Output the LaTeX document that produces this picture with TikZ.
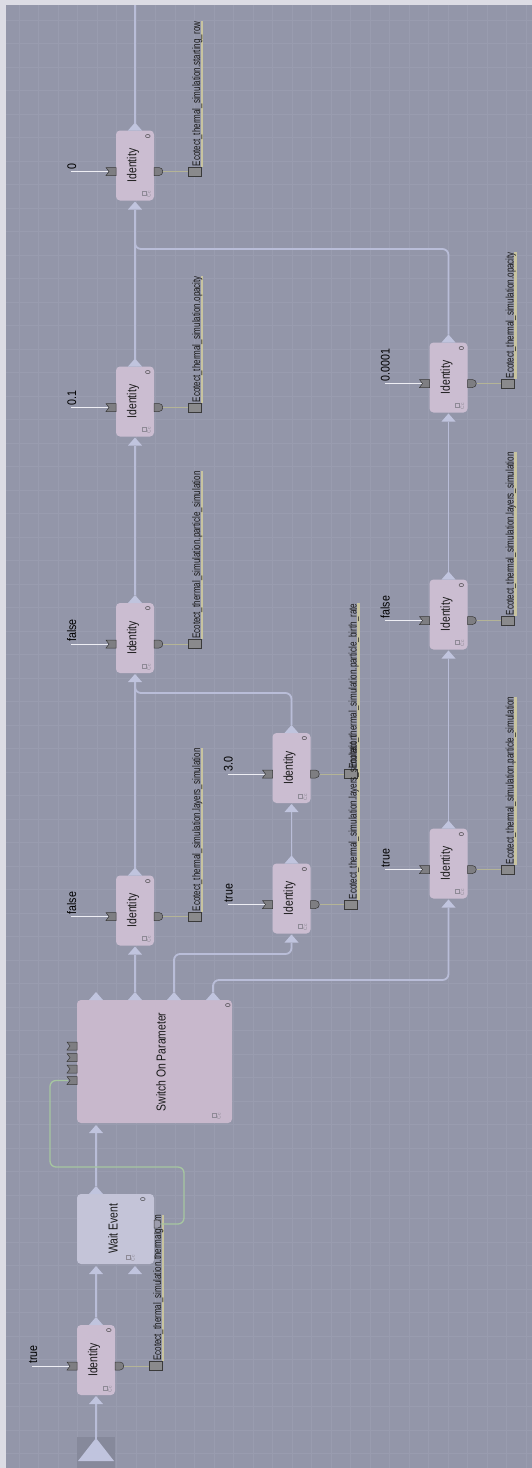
\documentclass[tikz,border=0pt]{standalone}
\usepackage{fontspec}
\setmainfont{Liberation Sans}
\definecolor{bgc}{HTML}{9396A9}
\definecolor{gridc}{HTML}{999CAF}
\definecolor{stripc}{HTML}{DCDCE4}
\definecolor{idfill}{HTML}{CBBDD1}
\definecolor{swfill}{HTML}{C8B8CC}
\definecolor{wefill}{HTML}{C4C4D8}
\definecolor{connc}{HTML}{B9BDD8}
\definecolor{tric}{HTML}{C0C4DE}
\definecolor{portc}{HTML}{7E7E82}
\definecolor{portd}{HTML}{3A3A3A}
\definecolor{clinec}{HTML}{EEEEF4}
\definecolor{olinec}{HTML}{B4B496}
\definecolor{sqc}{HTML}{8A8A8C}
\definecolor{labc}{HTML}{C8C4A0}
\definecolor{greenc}{HTML}{A6C6A0}
\definecolor{iconc}{HTML}{8E8A96}
\definecolor{startc}{HTML}{86899B}
\pgfdeclarelayer{bglayer}
\pgfdeclarelayer{behind}
\pgfsetlayers{bglayer,behind,main}
\tikzset{
  idbox/.style={rectangle, rounded corners=4pt, fill=idfill, minimum width=38pt, minimum height=70pt, inner sep=0pt},
  swbox/.style={rectangle, rounded corners=4pt, fill=swfill, minimum width=155pt, minimum height=123pt, inner sep=0pt},
  webox/.style={rectangle, rounded corners=4pt, fill=wefill, minimum width=77pt, minimum height=70pt, inner sep=0pt},
  startbox/.style={rectangle, fill=startc, minimum width=38pt, minimum height=31pt, inner sep=0pt},
  ttl/.style={rotate=90, inner sep=0pt, text=black!90, font=\fontsize{13}{15}\selectfont},
  zero/.style={rotate=90, inner sep=0pt, text=black!80, font=\fontsize{7}{8}\selectfont},
  cst/.style={rotate=90, inner sep=0pt, anchor=base west, text=black, font=\fontsize{12.5}{14}\selectfont},
  lab/.style={rotate=90, inner sep=0pt, anchor=base west, text=black!90, font=\fontsize{11}{13}\selectfont},
  sq/.style={rectangle, fill=sqc, draw=portd, line width=0.6pt, minimum width=13pt, minimum height=9pt, inner sep=0pt},
  port/.style={fill=portc, draw=portd, line width=0.5pt},
  tri/.style={fill=tric},
  conn/.style={draw=connc, line width=1.8pt},
  gconn/.style={draw=greenc, line width=1.3pt, rounded corners=6pt},
  cline/.style={draw=clinec, line width=1pt},
  oline/.style={draw=olinec, line width=0.9pt},
  labline/.style={draw=labc, line width=2.2pt},
  gridl/.style={draw=gridc, line width=0.7pt},
  iconr/.style={draw=iconc, line width=0.5pt},
  icont/.style={rotate=90, inner sep=0pt, text=iconc, font=\fontsize{5}{6}\selectfont}
}
\newcommand{\idn}[5]{%
  \node[idbox] (#1) at (#2,#3) {};
  \node[ttl] (#1-t) at ({#2-2},#3) {\scalebox{0.8}[1]{Identity}};
  \node[zero] (#1-z) at ({#2+13},{#3-29}) {0};
  \draw[iconr] ({#2+7},{#3+26}) rectangle ({#2+11},{#3+30});
  \node[icont] (#1-ic) at ({#2+14},{#3+29}) {Cc};
  \fill[tri] ({#2-7},{#3-35}) -- ({#2+7},{#3-35}) -- (#2,{#3-43}) -- cycle;
  \fill[tri] ({#2-7},{#3+44}) -- ({#2+7},{#3+44}) -- (#2,{#3+36}) -- cycle;
  \coordinate (#1-out) at (#2,{#3-43});
  \coordinate (#1-in) at (#2,{#3+44});
  \coordinate (#1-c) at ({#2-64},{#3+6});
  \coordinate (#1-ip) at ({#2-27},{#3+6});
  \draw[cline] (#1-c) -- (#1-ip);
  \filldraw[port] ({#2-29},{#3+2}) -- ({#2-19},{#3+2}) -- ({#2-19},{#3+10}) -- ({#2-29},{#3+10}) -- ({#2-26},{#3+6}) -- cycle;
  \node[cst] (#1-cv) at ({#2-59},{#3+4}) {\scalebox{0.85}[1]{#4}};
  \filldraw[port] ({#2+19},{#3+2}) -- ({#2+24},{#3+2}) .. controls ({#2+29},{#3+2}) and ({#2+29},{#3+10}) .. ({#2+24},{#3+10}) -- ({#2+19},{#3+10}) -- cycle;
  \coordinate (#1-op) at ({#2+28},{#3+6});
  \node[sq] (#1-sq) at ({#2+59.5},{#3+6}) {};
  \draw[oline] (#1-op) -- (#1-sq);
  \node[lab] (#1-lab) at ({#2+65},{#3+1}) {\scalebox{0.73}[1]{Ecotect\_thermal\_simulation.#5}};
  \begin{pgfonlayer}{behind}
    \draw[labline] ([xshift=-0.5pt]#1-lab.south west) -- ([xshift=-0.5pt]#1-lab.south east);
  \end{pgfonlayer}
}
\begin{document}
\begin{tikzpicture}[x=1pt,y=-1pt]
\useasboundingbox (0,0) rectangle (532,1468);
\begin{pgfonlayer}{bglayer}
\fill[bgc] (0,0) rectangle (532,1468);
\foreach \i in {0,...,26} \draw[gridl] ({19+19.5*\i},0) -- ({19+19.5*\i},1468);
\foreach \j in {0,...,61} \draw[gridl] (0,{20+23.5*\j}) -- (532,{20+23.5*\j});
\fill[stripc] (0,0) rectangle (532,5);
\fill[stripc] (0,0) rectangle (6,1468);
\end{pgfonlayer}

% start
\node[startbox] (start) at (96,1452.5) {};
\fill[tri] (78,1461) -- (114,1461) -- (96,1438) -- cycle;
\coordinate (start-out) at (96,1440);

% identity nodes
\idn{A1}{135}{165.5}{0}{starting\_row}
\idn{A2}{135}{401.5}{0.1}{opacity}
\idn{A3}{135}{638}{false}{particle\_simulation}
\idn{A4}{135}{910.5}{false}{layers\_simulation}
\idn{B1}{291.5}{768}{3.0}{particle\_birth\_rate}
\idn{B2}{291.5}{898.5}{true}{layers\_simulation}
\idn{C1}{448.5}{377.5}{0.0001}{opacity}
\idn{C2}{448.5}{614.5}{false}{layers\_simulation}
\idn{C3}{448.5}{863.5}{true}{particle\_simulation}
\idn{BI}{96}{1360}{true}{thermalgram}

% wait event
\node[webox] (we) at (115.5,1229) {};
\node[ttl] (we-t) at (113,1229) {\scalebox{0.8}[1]{Wait Event}};
\node[zero] (we-z) at (143,1200) {0};
\draw[iconr] (126,1255) rectangle (130,1259);
\node[icont] (we-ic) at (133,1258) {Cc};
\fill[tri] (89,1194) -- (103,1194) -- (96,1186) -- cycle;
\coordinate (we-out) at (96,1186);
\fill[tri] (89,1274) -- (103,1274) -- (96,1266) -- cycle;
\fill[tri] (128,1274) -- (142,1274) -- (135,1266) -- cycle;
\coordinate (we-in1) at (96,1274);
\filldraw[port, fill=wefill!80!black] (154,1220) -- (158,1220) .. controls (162,1220) and (162,1228) .. (158,1228) -- (154,1228) -- cycle;
\coordinate (we-op) at (161,1224);

% switch
\node[swbox] (sw) at (154.5,1061.5) {};
\node[ttl] (sw-t) at (161,1062) {\scalebox{0.8}[1]{Switch On Parameter}};
\node[zero] (sw-z) at (228,1006) {0};
\draw[iconr] (212,1113) rectangle (216,1117);
\node[icont] (sw-ic) at (219,1116) {Cc};
\foreach \x/\k in {96/1,135/2,174/3,213/4}{
  \fill[tri] ({\x-7},1000) -- ({\x+7},1000) -- (\x,992) -- cycle;
  \coordinate (sw-o\k) at (\x,992);
}
\fill[tri] (89,1133) -- (103,1133) -- (96,1125) -- cycle;
\coordinate (sw-in) at (96,1133);
\foreach \y/\k in {1046/1,1057.5/2,1069/3,1080.5/4}{
  \filldraw[port] (67,{\y-4}) -- (77,{\y-4}) -- (77,{\y+4}) -- (67,{\y+4}) -- (70,\y) -- cycle;
  \coordinate (sw-p\k) at (68,\y);
}
\coordinate (topend) at (135,5);

% connectors
\draw[conn] (start-out) -- (BI-in);
\draw[conn] (BI-out) -- (we-in1);
\draw[conn] (we-out) -- (sw-in);
\draw[conn] (sw-o2) -- (A4-in);
\draw[conn, rounded corners=6pt] (sw-o3) -- ++(0,-38) -| (B2-in);
\draw[conn, rounded corners=6pt] (sw-o4) -- ++(0,-12) -| (C3-in);
\draw[conn] (A4-out) -- (A3-in);
\draw[conn] (B2-out) -- (B1-in);
\draw[conn, rounded corners=6pt] (B1-out) -- ++(0,-32) -| (A3-in);
\draw[conn] (A3-out) -- (A2-in);
\draw[conn] (A2-out) -- (A1-in);
\draw[conn] (A1-out) -- (topend);
\draw[conn] (C3-out) -- (C2-in);
\draw[conn] (C2-out) -- (C1-in);
\draw[conn, rounded corners=6pt] (C1-out) -- ++(0,-85.5) -| (A1-in);
\draw[gconn] (we-op) -| (184,1167) -| (50,1080.5) -- (sw-p4);
\end{tikzpicture}
\end{document}
